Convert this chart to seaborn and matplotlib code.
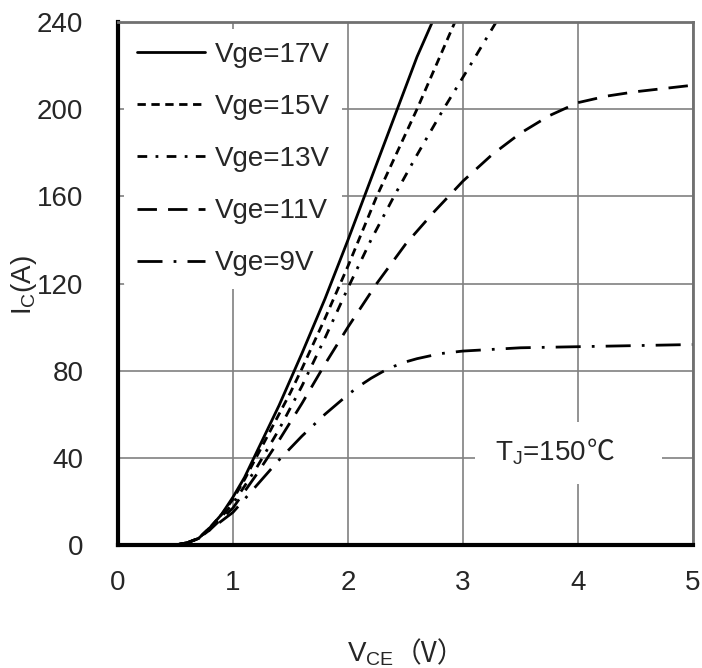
import numpy as np
import pandas as pd
import matplotlib
matplotlib.use("Agg")
import matplotlib.pyplot as plt
from matplotlib.patches import Rectangle
import seaborn as sns

# ---- data ----
x17 = [0.5, 0.6, 0.7, 0.8, 0.9, 1.0, 1.1, 1.2, 1.3, 1.4, 1.5, 1.6, 1.8, 2.0, 2.2, 2.4, 2.6, 2.75]
y17 = [0, 1, 3, 8, 14, 22, 31, 42, 53, 64, 76, 88, 113, 140, 168, 196, 224, 242]

x15 = [0.5, 0.6, 0.7, 0.8, 0.9, 1.0, 1.1, 1.2, 1.3, 1.4, 1.5, 1.6, 1.8, 2.0, 2.25, 2.6, 2.93]
y15 = [0, 1, 3, 8, 14, 21, 30, 40, 50, 60, 70, 81, 104, 128, 160, 200, 240]

x13 = [0.5, 0.6, 0.7, 0.8, 0.9, 1.0, 1.2, 1.4, 1.6, 1.8, 2.0, 2.2, 2.4, 2.6, 2.83, 3.05, 3.3]
y13 = [0, 1, 3, 8, 13, 19, 35, 53, 73, 95, 118, 140, 160, 179, 200, 219, 241]

x11 = [0.5, 0.6, 0.7, 0.8, 0.9, 1.0, 1.2, 1.4, 1.6, 1.8, 2.0, 2.25, 2.5, 2.75, 3.0, 3.25, 3.5, 3.75, 4.0, 4.25, 4.5, 5.0]
y11 = [0, 1, 3, 7, 12, 17, 32, 48, 65, 83, 100, 120, 138, 153, 167, 179, 189, 197, 203, 206, 208, 211]

x9 = [0.5, 0.6, 0.7, 0.8, 0.9, 1.0, 1.2, 1.4, 1.6, 1.8, 2.0, 2.1, 2.2, 2.3, 2.4, 2.5, 2.6, 2.8, 3.0, 3.5, 4.0, 4.5, 5.0]
y9 = [0, 1, 3, 7, 11, 15, 27, 39, 50, 60, 69, 73, 76.5, 79.5, 82, 84, 85.5, 87.8, 89, 90.5, 91, 91.5, 92]

labels = ["Vge=17V", "Vge=15V", "Vge=13V", "Vge=11V", "Vge=9V"]
x_ticks = [0, 1, 2, 3, 4, 5]
y_ticks = [0, 40, 80, 120, 160, 200, 240]

series = [(x17, y17), (x15, y15), (x13, y13), (x11, y11), (x9, y9)]
frames = []
for lab, (xs, ys) in zip(labels, series):
    frames.append(pd.DataFrame({"VCE": xs, "IC": ys, "Vge": lab}))
df = pd.concat(frames, ignore_index=True)

dashes = {
    "Vge=17V": "",
    "Vge=15V": (3, 2),
    "Vge=13V": (3.5, 3, 1, 3),
    "Vge=11V": (7, 4),
    "Vge=9V": (9, 4, 1, 4),
}

sns.set_style("white")
plt.rcParams["font.family"] = ["Liberation Sans", "Noto Sans CJK SC", "DejaVu Sans"]
plt.rcParams["mathtext.fontset"] = "custom"
plt.rcParams["mathtext.rm"] = "Liberation Sans"
plt.rcParams["mathtext.it"] = "Liberation Sans"

fig = plt.figure(figsize=(7.02, 6.68), dpi=100)
ax = fig.add_axes([118 / 702, 1 - 545 / 668, 575 / 702, 523 / 668])

sns.lineplot(data=df, x="VCE", y="IC", hue="Vge", style="Vge",
             palette=["black"] * 5, dashes=dashes, linewidth=2,
             hue_order=labels, style_order=labels, sort=False,
             estimator=None, ax=ax, zorder=3)

ax.set_xlim(0, 5)
ax.set_ylim(0, 240)
ax.set_xticks(x_ticks)
ax.set_yticks(y_ticks)
ax.set_xticklabels([str(v) for v in x_ticks])
ax.set_yticklabels([str(v) for v in y_ticks])
ax.tick_params(axis="both", length=0, labelsize=20)
ax.tick_params(axis="x", pad=18)
ax.tick_params(axis="y", pad=25)
ax.grid(True, color="#808080", linewidth=1.2)
ax.set_axisbelow(True)
ax.set_xlabel("")
ax.set_ylabel("")

for side in ["left", "bottom"]:
    ax.spines[side].set_color("black")
    ax.spines[side].set_linewidth(3)
for side in ["top", "right"]:
    ax.spines[side].set_color("#707070")
    ax.spines[side].set_linewidth(2)
for sp in ax.spines.values():
    sp.set_zorder(10)

handles, labs = ax.get_legend_handles_labels()
leg = ax.legend(handles, labs, loc="upper left", bbox_to_anchor=(0.0113, 1 - 0.0143),
                borderaxespad=0.0, fontsize=20, frameon=True,
                handlelength=2.45, handletextpad=0.35, labelspacing=0.94,
                borderpad=0.45)
leg.get_frame().set_facecolor("white")
leg.get_frame().set_edgecolor("none")
leg.get_frame().set_alpha(1)
leg.set_zorder(2.5)
for h in leg.get_lines():
    h.set_linewidth(2)

# white box behind temperature annotation
ax.add_patch(Rectangle((0.621, 0.117), 0.325, 0.118, transform=ax.transAxes,
                       facecolor="white", edgecolor="none", zorder=2))
ax.text(0.656, 0.1625, r"T$_\mathregular{J}$=150", transform=ax.transAxes,
        fontsize=20, ha="left", va="baseline", zorder=4)
ax.text(0.815, 0.1625, "℃", transform=ax.transAxes, fontsize=20,
        family=["Noto Sans CJK SC", "DejaVu Sans"], ha="left", va="baseline",
        zorder=4)

# axis labels
fig.text(24 / 702, 1 - 285 / 668, r"I$_\mathregular{C}$(A)", rotation=90,
         fontsize=20, ha="center", va="center")
fig.text(347 / 702, 1 - 662 / 668, r"V$_\mathregular{CE}$", fontsize=20,
         ha="left", va="baseline")
fig.text(394 / 702, 1 - 662 / 668, "（V）", fontsize=20,
         family=["Noto Sans CJK SC", "DejaVu Sans"], ha="left", va="baseline")

fig.savefig("out.png", dpi=100)
